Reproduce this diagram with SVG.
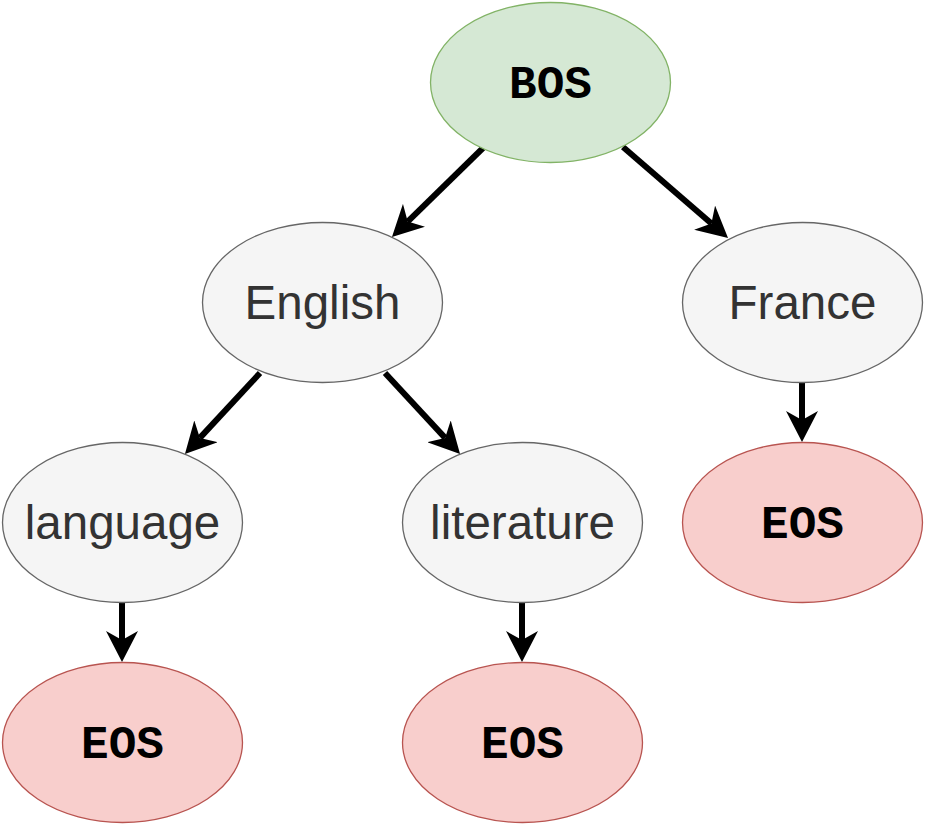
<svg xmlns="http://www.w3.org/2000/svg" width="926" height="826" viewBox="0 0 926 826">
<style>
.n ellipse{stroke-width:1.3}
.g ellipse{fill:#d5e8d4;stroke:#82b366}
.w ellipse{fill:#f5f5f5;stroke:#666666}
.r ellipse{fill:#f8cecc;stroke:#b85450}
.t{font-family:"Liberation Sans",Arial,sans-serif;font-size:47.5px;fill:#333333;text-anchor:middle}
.m{font-family:"Liberation Mono","Courier New",monospace;font-size:46px;font-weight:bold;fill:#000000;text-anchor:middle}
.e line{stroke:#000;stroke-width:6;marker-end:url(#ah)}
</style>
<defs>
<marker id="ah" markerUnits="userSpaceOnUse" viewBox="0 0 32 32" markerWidth="32" markerHeight="32" refX="9" refY="16" orient="auto">
<path d="M0,0 L31,16 L0,32 L9,16 Z" fill="#000"/>
</marker>
</defs>
<g id="edges" class="e">
<line x1="483" y1="148" x2="407.7" y2="221.6"/>
<line x1="623" y1="147" x2="711.4" y2="223.6"/>
<line x1="260" y1="373" x2="199.9" y2="437.9"/>
<line x1="385" y1="373" x2="445.1" y2="437.9"/>
<line x1="802" y1="382" x2="802" y2="420"/>
<line x1="122" y1="602" x2="122" y2="640"/>
<line x1="522" y1="602" x2="522" y2="640"/>
</g>
<g id="bos" class="n g"><ellipse cx="550.5" cy="82.5" rx="120" ry="80"/><text class="m" x="550.5" y="98">BOS</text></g>
<g id="english" class="n w"><ellipse cx="322.5" cy="302.5" rx="120" ry="80"/><text class="t" x="322.5" y="319">English</text></g>
<g id="france" class="n w"><ellipse cx="802.5" cy="302.5" rx="120" ry="80"/><text class="t" x="802.5" y="319">France</text></g>
<g id="language" class="n w"><ellipse cx="122.5" cy="522.5" rx="120" ry="80"/><text class="t" x="122.5" y="539">language</text></g>
<g id="literature" class="n w"><ellipse cx="522.5" cy="522.5" rx="120" ry="80"/><text class="t" x="522.5" y="539">literature</text></g>
<g id="eos-france" class="n r"><ellipse cx="802.5" cy="522.5" rx="120" ry="80"/><text class="m" x="802.5" y="538">EOS</text></g>
<g id="eos-language" class="n r"><ellipse cx="122.5" cy="742.5" rx="120" ry="80"/><text class="m" x="122.5" y="758">EOS</text></g>
<g id="eos-literature" class="n r"><ellipse cx="522.5" cy="742.5" rx="120" ry="80"/><text class="m" x="522.5" y="758">EOS</text></g>
</svg>
